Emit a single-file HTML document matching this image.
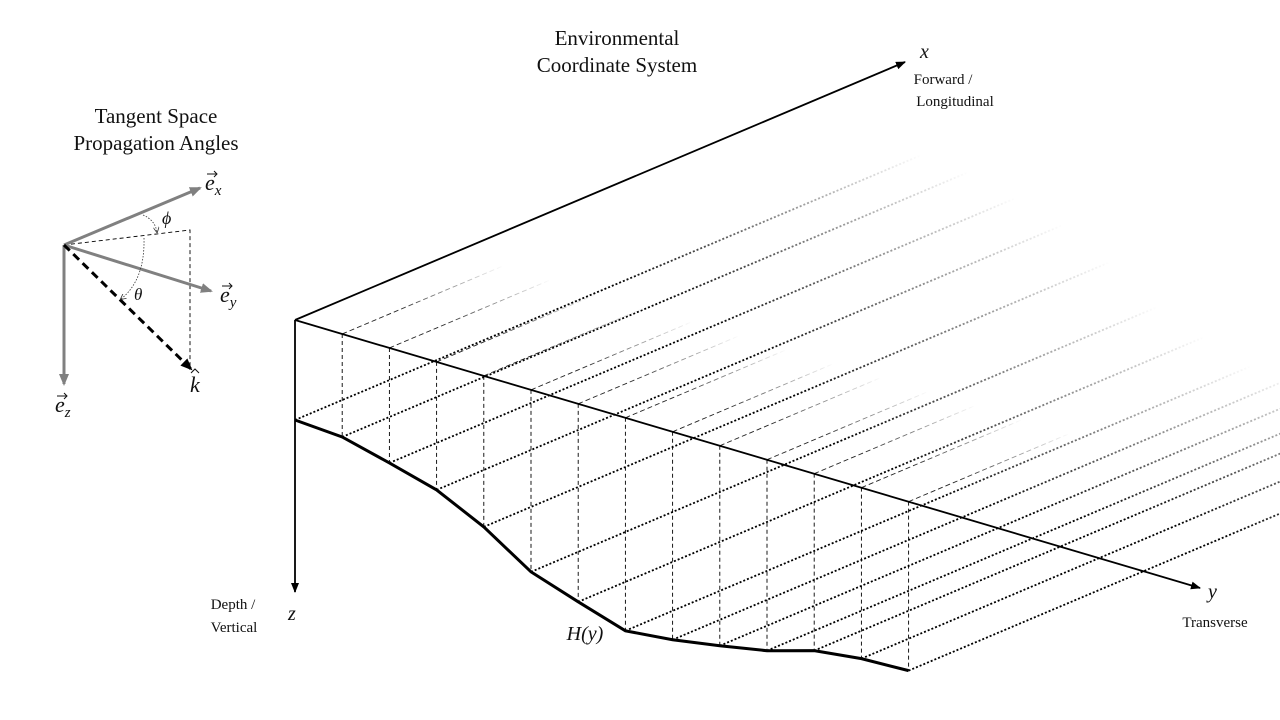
<!DOCTYPE html>
<html><head><meta charset="utf-8"><style>
html,body{margin:0;padding:0;background:#fff;width:1280px;height:720px;overflow:hidden}
svg text{font-family:"Liberation Serif",serif;fill:#111}
.it{font-style:italic}
</style></head><body>
<svg id="fig" width="1280" height="720" viewBox="0 0 1280 720" xmlns="http://www.w3.org/2000/svg">
<defs id="defs">
<marker id="ab" markerWidth="10" markerHeight="8" refX="9" refY="4" orient="auto" markerUnits="userSpaceOnUse"><path d="M0,0 L10,4 L0,8 z" fill="#000"/></marker>
<marker id="ag" markerWidth="12" markerHeight="10" refX="10" refY="5" orient="auto" markerUnits="userSpaceOnUse"><path d="M0,0 L12,5 L0,10 z" fill="#808080"/></marker>
<marker id="ak" markerWidth="12" markerHeight="10" refX="10" refY="5" orient="auto" markerUnits="userSpaceOnUse"><path d="M0,0 L12,5 L0,10 z" fill="#000"/></marker>
<marker id="as" markerWidth="6" markerHeight="6" refX="5" refY="3" orient="auto" markerUnits="userSpaceOnUse"><path d="M0,0 L6,3 L0,6" fill="none" stroke="#333" stroke-width="0.8"/></marker>
</defs>
<g id="grid"></g>

<line x1="295" y1="320" x2="905" y2="62" stroke="#000" stroke-width="1.8" marker-end="url(#ab)"/>
<line x1="295" y1="320" x2="1200" y2="588" stroke="#000" stroke-width="1.8" marker-end="url(#ab)"/>
<line x1="295" y1="320" x2="295" y2="592" stroke="#000" stroke-width="1.8" marker-end="url(#ab)"/>

<text x="617" y="45" font-size="21" text-anchor="middle">Environmental</text>
<text x="617" y="72" font-size="21" text-anchor="middle">Coordinate System</text>
<text class="it" x="920" y="58" font-size="20">x</text>
<text x="943" y="84" font-size="15" text-anchor="middle">Forward /</text>
<text x="955" y="106" font-size="15" text-anchor="middle">Longitudinal</text>
<text class="it" x="1208" y="598" font-size="20">y</text>
<text x="1215" y="627" font-size="15" text-anchor="middle">Transverse</text>
<text class="it" x="288" y="620" font-size="20">z</text>
<text x="233" y="609" font-size="15" text-anchor="middle">Depth /</text>
<text x="234" y="632" font-size="15" text-anchor="middle">Vertical</text>
<text class="it" x="585" y="640" font-size="20" text-anchor="middle">H(y)</text>

<g>
<text x="156" y="123" font-size="21" text-anchor="middle">Tangent Space</text>
<text x="156" y="150" font-size="21" text-anchor="middle">Propagation Angles</text>
<polyline points="64,245 190,230 190,368" fill="none" stroke="#000" stroke-width="0.9" stroke-dasharray="4,3"/>
<line x1="64" y1="245" x2="200" y2="188" stroke="#808080" stroke-width="3" marker-end="url(#ag)"/>
<line x1="64" y1="245" x2="211" y2="291" stroke="#808080" stroke-width="3" marker-end="url(#ag)"/>
<line x1="64" y1="245" x2="64" y2="384" stroke="#808080" stroke-width="3" marker-end="url(#ag)"/>
<line x1="64" y1="245" x2="191" y2="369" stroke="#000" stroke-width="3" stroke-dasharray="8,5" marker-end="url(#ak)"/>
<path d="M143,215 Q155,220 157,232" fill="none" stroke="#333" stroke-width="0.8" stroke-dasharray="1.5,1.5" marker-end="url(#as)"/>
<path d="M144,238 Q145,280 121,299" fill="none" stroke="#333" stroke-width="0.8" stroke-dasharray="1.5,1.5" marker-end="url(#as)"/>
<text class="it" x="205" y="190" font-size="22">e<tspan font-size="15" dy="5">x</tspan></text>
<text class="it" x="220" y="302" font-size="22">e<tspan font-size="15" dy="5">y</tspan></text>
<text class="it" x="55" y="412" font-size="22">e<tspan font-size="15" dy="5">z</tspan></text>
<path d="M207,174 h10 M214,171 l3,3 l-3,3 M222,286 h10 M229,283 l3,3 l-3,3 M57,396 h10 M64,393 l3,3 l-3,3" stroke="#111" stroke-width="1" fill="none"/>
<text class="it" x="190" y="392" font-size="22">k</text>
<path d="M191,373 l4,-4 l4,4" stroke="#111" stroke-width="1" fill="none"/>
<text class="it" x="162" y="224" font-size="18">ϕ</text>
<text class="it" x="134" y="300" font-size="17">θ</text>
</g>

<script>
const stations = [0,1,2,3,4,5,6,7,8,9,10,11,12,13];
const depths = [100,103,115,128,151,182,198,213,208,200,191,177,171,169];
const ox=295, oy=320, dyx=47.2, ySlope=0.296, xdx=610, xdy=-258;
function sx(i){return ox+i*dyx;}
function sy(i){return oy+(sx(i)-ox)*ySlope;}
const NS='http://www.w3.org/2000/svg';
const g=document.getElementById('grid');
const defs=document.getElementById('defs');
let gid=0;
function stop(off,col){const s=document.createElementNS(NS,'stop');s.setAttribute('offset',off);s.setAttribute('stop-color',col);return s;}
function fadeLine(x1,y1,len,dash,w,name,stroke,hold){
  const n=Math.hypot(xdx,xdy), ux=xdx/n, uy=xdy/n;
  const x2=x1+ux*len, y2=y1+uy*len;
  const gr=document.createElementNS(NS,'linearGradient');
  gr.setAttribute('id','f'+gid);gr.setAttribute('gradientUnits','userSpaceOnUse');
  gr.setAttribute('x1',x1);gr.setAttribute('y1',y1);gr.setAttribute('x2',x2);gr.setAttribute('y2',y2);
  gr.appendChild(stop('0',stroke));gr.appendChild(stop(hold,stroke));gr.appendChild(stop('1','#ffffff'));
  defs.appendChild(gr);
  const l=document.createElementNS(NS,'path');
  
  
  l.setAttribute('d','M'+x1+','+y1+' L'+x2+','+y2);
  l.setAttribute('stroke','url(#f'+gid+')');l.setAttribute('stroke-width',w);l.setAttribute('stroke-dasharray',dash);
  l.setAttribute('fill','none');
  g.appendChild(l);gid++;
}
stations.forEach(i=>{
  const x=sx(i), ys=sy(i), yb=ys+depths[i];
  if(i>0) fadeLine(x,ys,175,'5,3',0.9,'surface-line','#222222','0.3');
  fadeLine(x,yb,680,'2,2',1.8,'seabed-line','#000000','0.5');
  if(i>0){
    const v=document.createElementNS(NS,'line');
    
    
    v.setAttribute('x1',x);v.setAttribute('y1',ys);v.setAttribute('x2',x);v.setAttribute('y2',yb);
    v.setAttribute('stroke','#000');v.setAttribute('stroke-width','0.9');v.setAttribute('stroke-dasharray','4,3');
    g.appendChild(v);
  }
});
const p=document.createElementNS(NS,'polyline');


p.setAttribute('points',stations.map(i=>sx(i)+','+(sy(i)+depths[i])).join(' '));
p.setAttribute('fill','none');p.setAttribute('stroke','#000');p.setAttribute('stroke-width','3');
g.appendChild(p);
</script>
</svg>
</body></html>
